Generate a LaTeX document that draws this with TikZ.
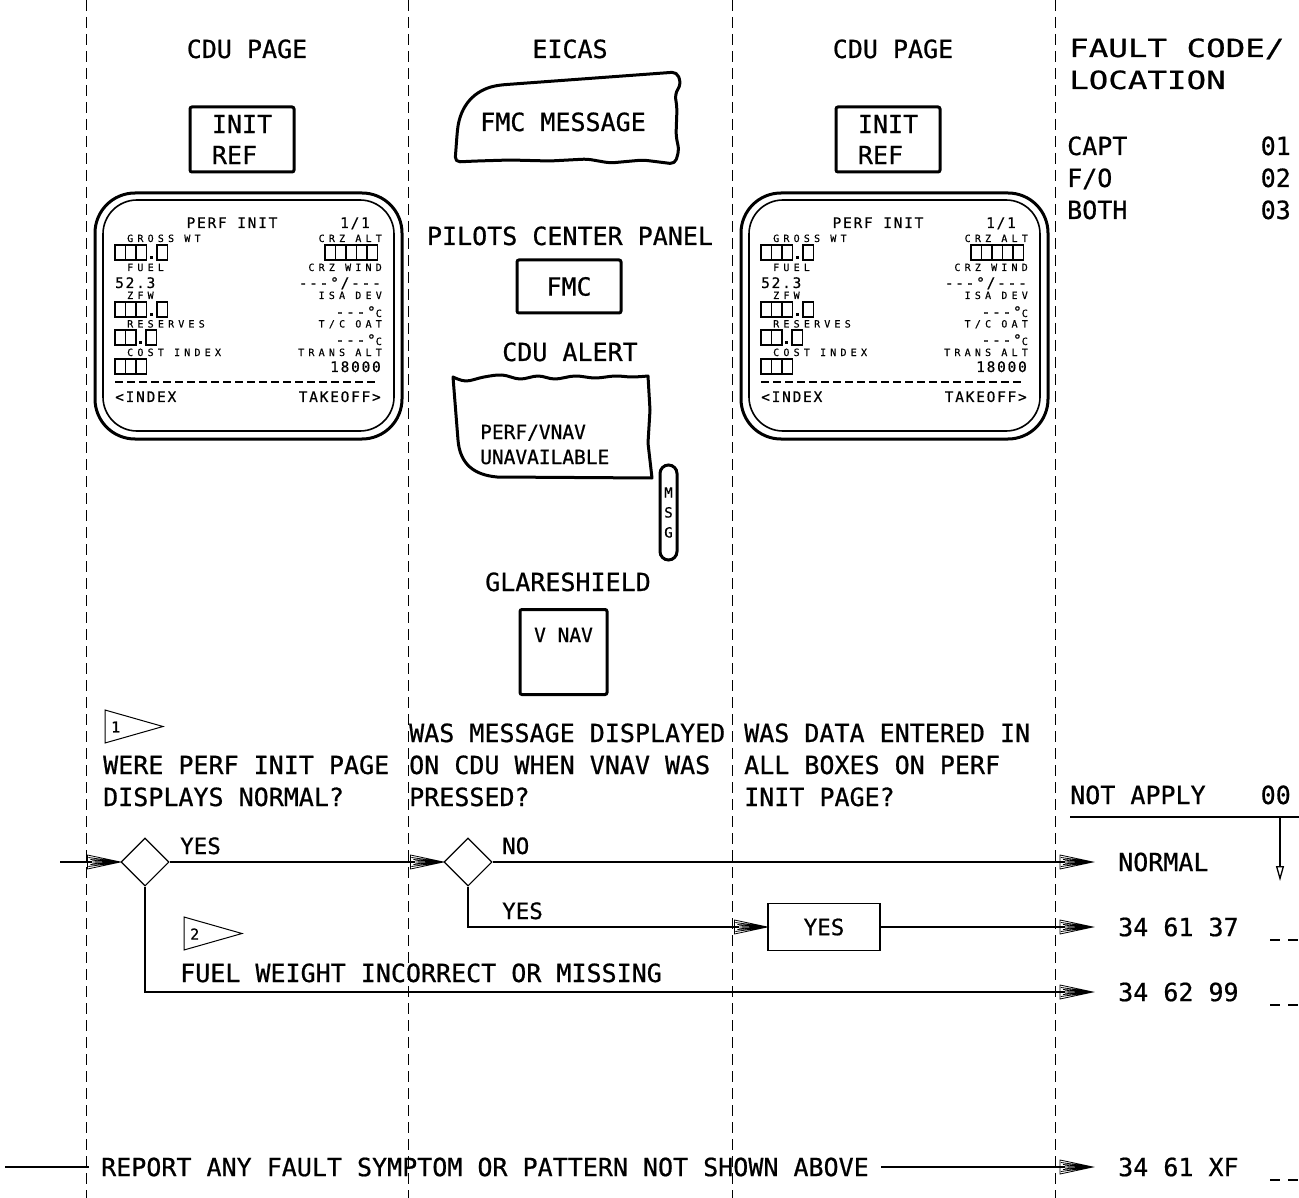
\documentclass[tikz,border=0pt]{standalone}
\usepackage{fontspec}
\setmainfont[FakeBold=0.7]{DejaVu Sans Mono}
\newfontfamily\widefont[FakeStretch=1.3, FakeBold=0.8]{DejaVu Sans Mono}
\newfontfamily\cdumidfont[LetterSpace=12, FakeBold=0.6]{DejaVu Sans Mono}
\newfontfamily\cdusmfont[LetterSpace=42, FakeBold=0.3]{DejaVu Sans Mono}
\usetikzlibrary{arrows.meta, positioning, shapes.geometric, calc}

\newcommand{\txtmain}{\fontsize{25}{31}\selectfont}
\newcommand{\txtyes}{\fontsize{22.5}{28}\selectfont}
\newcommand{\txtalert}{\fontsize{19.5}{26}\selectfont}
\newcommand{\txtmid}{\cdumidfont\fontsize{14.5}{15}\selectfont}
\newcommand{\txtsm}{\cdusmfont\fontsize{10}{11}\selectfont}

% hatched flow arrow head
\pgfdeclarearrow{
  name = Hatch,
  setup code = {
    \pgfarrowssettipend{0pt}
    \pgfarrowssetlineend{-28pt}
    \pgfarrowssetvisualbackend{-33pt}
    \pgfarrowssetbackend{-33pt}
    \pgfarrowshullpoint{0pt}{0pt}
    \pgfarrowsupperhullpoint{-33pt}{7pt}
  },
  drawing code = {
    \pgfsetdash{}{0pt}
    \pgfsetlinewidth{0.8pt}
    \pgfpathmoveto{\pgfqpoint{-33pt}{7pt}}
    \pgfpathlineto{\pgfqpoint{0pt}{0pt}}
    \pgfpathlineto{\pgfqpoint{-33pt}{-7pt}}
    \pgfpathclose
    \pgfpathmoveto{\pgfqpoint{-32pt}{4.5pt}}\pgfpathlineto{\pgfqpoint{0pt}{0pt}}
    \pgfpathmoveto{\pgfqpoint{-32pt}{-4.5pt}}\pgfpathlineto{\pgfqpoint{0pt}{0pt}}
    \pgfpathmoveto{\pgfqpoint{-30pt}{2.5pt}}\pgfpathlineto{\pgfqpoint{0pt}{0pt}}
    \pgfpathmoveto{\pgfqpoint{-30pt}{-2.5pt}}\pgfpathlineto{\pgfqpoint{0pt}{0pt}}
    \pgfpathmoveto{\pgfqpoint{-28pt}{1pt}}\pgfpathlineto{\pgfqpoint{0pt}{0pt}}
    \pgfpathmoveto{\pgfqpoint{-28pt}{-1pt}}\pgfpathlineto{\pgfqpoint{0pt}{0pt}}
    \pgfusepathqstroke
  }
}

% row of empty entry boxes on the CDU screen
\newcommand{\entryboxes}[3]{%
  \foreach \k in {1,...,#3}
    \draw[line width=1.3pt] ({#1+(\k-1)*10.5},#2) rectangle ++(10.5,15);
}

% PERF INIT page of the CDU
\newcommand{\cdupage}[1]{%
  \draw[line width=3pt, rounded corners=40pt] (95,193) rectangle (402,439);
  \draw[line width=1.6pt, rounded corners=34pt] (103,200) rectangle (394,431);
  \node[cdumid, anchor=base] (#1-title) at (232,228) {PERF INIT};
  \node[cdumid, anchor=base] (#1-pg) at (355,228) {1/1};
  \node[cdusm, anchor=base west] (#1-gw) at (127,242) {GROSS WT};
  \node[cdusm, anchor=base east] (#1-ca) at (382,242) {CRZ ALT};
  \entryboxes{115}{245}{3}
  \fill (150,256) rectangle ++(3,3);
  \entryboxes{157}{245}{1}
  \entryboxes{325}{245}{5}
  \node[cdusm, anchor=base west] (#1-fuel) at (127,271) {FUEL};
  \node[cdumid, anchor=base west] (#1-fv) at (115,288) {52.3};
  \node[cdusm, anchor=base east] (#1-cw) at (382,271) {CRZ WIND};
  \node[cdumid, anchor=base east] (#1-cwv) at (381,288) {-{}-{}-°/-{}-{}-};
  \node[cdusm, anchor=base west] (#1-zfw) at (127,299) {ZFW};
  \entryboxes{115}{302}{3}
  \fill (150,313) rectangle ++(3,3);
  \entryboxes{157}{302}{1}
  \node[cdusm, anchor=base east] (#1-isa) at (382,299) {ISA DEV};
  \node[cdumid, anchor=base east] (#1-isav) at (382,317) {-{}-{}-°{\txtsm C}};
  \node[cdusm, anchor=base west] (#1-res) at (127,327.5) {RESERVES};
  \entryboxes{115}{330}{2}
  \fill (139,341) rectangle ++(3,3);
  \entryboxes{146}{330}{1}
  \node[cdusm, anchor=base east] (#1-oat) at (382,327.5) {T/C OAT};
  \node[cdumid, anchor=base east] (#1-oatv) at (382,345) {-{}-{}-°{\txtsm C}};
  \node[cdusm, anchor=base west] (#1-ci) at (127,356) {COST INDEX};
  \entryboxes{115}{359}{3}
  \node[cdusm, anchor=base east] (#1-ta) at (382,356) {TRANS ALT};
  \node[cdumid, anchor=base east] (#1-tav) at (381,372) {18000};
  \draw[line width=1.8pt, dash pattern=on 8pt off 4pt] (115,382) -- (378,382);
  \node[cdumid, anchor=base west] (#1-idx) at (115,402) {<INDEX};
  \node[cdumid, anchor=base east] (#1-to) at (381,402) {TAKEOFF>};
}

\begin{document}
\begin{tikzpicture}[x=1pt, y=-1pt,
    >=Stealth,
    lbl/.style={inner sep=0pt, font=\txtmain},
    yeslbl/.style={inner sep=0pt, font=\txtyes},
    cdumid/.style={inner sep=0pt, font=\txtmid},
    cdusm/.style={inner sep=0pt, font=\txtsm},
    keybox/.style={draw, line width=3pt, rounded corners=2pt, inner sep=0pt, font=\txtmain},
    column/.style={line width=1pt, dash pattern=on 11pt off 6pt},
    flow/.style={line width=1.4pt, -Hatch},
    decision/.style={draw, diamond, aspect=1, minimum width=48pt, minimum height=48pt,
                     inner sep=0pt, line width=1.1pt},
    code/.style={inner sep=0pt, font=\txtmain, anchor=west},
    blank/.style={line width=1.2pt, dash pattern=on 10pt off 8pt},
    flagno/.style={inner sep=0pt, font=\fontsize{15}{18}\selectfont, anchor=west}
  ]
  \useasboundingbox (0,0) rectangle (1299,1198);

  % column separators
  \foreach \x in {86,408,732,1055}
    \draw[column] (\x,0) -- (\x,1198);

  % column headings
  \node[lbl, anchor=base] (hcdu1) at (247,58) {CDU PAGE};
  \node[lbl, anchor=base] (heicas) at (570,58) {EICAS};
  \node[lbl, anchor=base] (hcdu3) at (893,58) {CDU PAGE};
  \node[lbl, font=\widefont\fontsize{25}{31}\selectfont, anchor=base west] (hfault) at (1069,57) {FAULT CODE/};
  \node[lbl, font=\widefont\fontsize{25}{31}\selectfont, anchor=base west] (hloc) at (1069,89) {LOCATION};
  \foreach \nm/\who/\num/\y in {capt/CAPT/01/155, fo/{F/O}/02/187, both/BOTH/03/219} {
    \node[lbl, anchor=base west] (\nm) at (1067,\y) {\who};
    \node[lbl, anchor=base east] (\nm-code) at (1291,\y) {\num};
  }

  % CDU pages
  \node[keybox, minimum width=104pt, minimum height=65pt, align=left] (initref1) at (242,139.5) {INIT\\REF};
  \node[keybox, minimum width=104pt, minimum height=65pt, align=left] (initref3) at (888,139.5) {INIT\\REF};
  \cdupage{cdu1}
  \begin{scope}[xshift=646pt]
    \cdupage{cdu3}
  \end{scope}

  % EICAS message
  \draw[line width=3pt, line join=round, rounded corners=5pt]
    (455,162) -- (457,135) .. controls (460,105) and (475,90) .. (500,85) -- (677,72)
    -- (681,84) -- (675,94) -- (677,108) -- (676,136) -- (679,150) -- (675,164)
    -- (643,160) -- (610,163) -- (587,159) -- (550,161) -- (510,160) -- (477,161) -- cycle;
  \node[lbl, anchor=base] (fmcmsg) at (563,131) {FMC MESSAGE};

  \node[lbl, anchor=base] (hpanel) at (570,245) {PILOTS CENTER PANEL};
  \node[keybox, minimum width=104pt, minimum height=53pt] (fmckey) at (569,286.5) {FMC};

  % CDU alert
  \node[lbl, anchor=base] (halert) at (570,361) {CDU ALERT};
  \draw[line width=3pt, line join=round]
    plot[smooth, tension=0.6] coordinates {(453,377) (466,381) (484,377) (502,375) (520,379) (538,376)
      (555,379) (575,376) (595,378) (615,376) (632,377) (648,376)}
    -- (650,410) -- (648,443) -- (652,478) -- (497,477)
    .. controls (475,475) and (460,465) .. (458,440) -- cycle;
  \node[inner sep=0pt, font=\txtalert, anchor=base west] (alert1) at (480,439) {PERF/VNAV};
  \node[inner sep=0pt, font=\txtalert, anchor=base west] (alert2) at (480,464) {UNAVAILABLE};
  \node[draw, line width=3pt, rounded corners=8.5pt, minimum width=17pt, minimum height=95pt,
        inner sep=0pt, align=center, font=\fontsize{14}{20}\selectfont] (msgkey) at (668.5,512.5) {M\\S\\G};

  % glareshield
  \node[lbl, anchor=base] (hglare) at (568,591) {GLARESHIELD};
  \node[keybox, minimum width=87pt, minimum height=85pt, anchor=north] (vnav) at (563.5,608) {};
  \node[inner sep=0pt, font=\fontsize{19.5}{24}\selectfont, anchor=base] (vnavlbl) at (563.5,642) {V NAV};

  % notes
  \draw[line width=1pt] (105,710) -- (105,743) -- (163,726.5) -- cycle;
  \node[flagno] (flag1) at (111,727) {1};
  \draw[line width=1pt] (184,917) -- (184,950) -- (242,933.5) -- cycle;
  \node[flagno] (flag2) at (190,934) {2};

  % questions
  \node[lbl, anchor=base west] (q1a) at (103,774) {WERE PERF INIT PAGE};
  \node[lbl, anchor=base west] (q1b) at (103,806) {DISPLAYS NORMAL?};
  \node[lbl, anchor=base west] (q2a) at (409,742) {WAS MESSAGE DISPLAYED};
  \node[lbl, anchor=base west] (q2b) at (409,774) {ON CDU WHEN VNAV WAS};
  \node[lbl, anchor=base west] (q2c) at (409,806) {PRESSED?};
  \node[lbl, anchor=base west] (q3a) at (744,742) {WAS DATA ENTERED IN};
  \node[lbl, anchor=base west] (q3b) at (744,774) {ALL BOXES ON PERF};
  \node[lbl, anchor=base west] (q3c) at (744,806) {INIT PAGE?};

  \node[lbl, anchor=base west] (notapply) at (1070,804) {NOT APPLY};
  \node[lbl, anchor=base east] (notapply-code) at (1291,804) {00};
  \draw[line width=1.3pt] (1070,817) -- (1299,817);
  \coordinate (natop) at (1280,817);
  \coordinate (nabot) at (1280,881);
  \draw[line width=1.3pt, -{Triangle[open,length=15pt,width=8pt]}] (natop) -- (nabot);

  % decisions
  \node[decision] (d1) at (145,862) {};
  \node[decision] (d2) at (468,862) {};
  \node[yeslbl, anchor=base west] (yes1) at (180,854) {YES};
  \node[yeslbl, anchor=base west] (no2) at (502,854) {NO};
  \node[yeslbl, anchor=base west] (yes2) at (502,919) {YES};
  \node[draw, line width=1.2pt, minimum width=112pt, minimum height=47pt, font=\txtyes] (yesbox) at (824,927) {YES};
  \node[lbl, anchor=base west] (fuelmsg) at (180,982) {FUEL WEIGHT INCORRECT OR MISSING};

  % fault codes
  \node[code] (cnormal) at (1118,862) {NORMAL};
  \node[code] (c37) at (1118,927) {34 61 37};
  \node[code] (c99) at (1118,992) {34 62 99};
  \node[code] (cxf) at (1118,1167) {34 61 XF};
  \foreach \y in {940,1005,1180}
    \draw[blank] (1270,\y) -- (1299,\y);

  % flow
  \coordinate (entry) at (60,862);
  \draw[flow] (entry) -- (d1.west);
  \draw[flow] (d1.east) -- (d2.west);
  \draw[flow] (d2.east) -- ([xshift=-25pt]cnormal.west);
  \draw[flow] (d2.south) |- (yesbox.west);
  \draw[flow] (yesbox.east) -- ([xshift=-25pt]c37.west);
  \draw[flow] (d1.south) |- ([xshift=-25pt]c99.west);

  % other faults
  \coordinate (rptin) at (5,1167);
  \node[lbl, anchor=west, inner xsep=12pt] (report) at (89,1167) {REPORT ANY FAULT SYMPTOM OR PATTERN NOT SHOWN ABOVE};
  \draw[line width=1.4pt] (rptin) -- (report.west);
  \draw[flow] (report.east) -- ([xshift=-25pt]cxf.west);
\end{tikzpicture}
\end{document}
